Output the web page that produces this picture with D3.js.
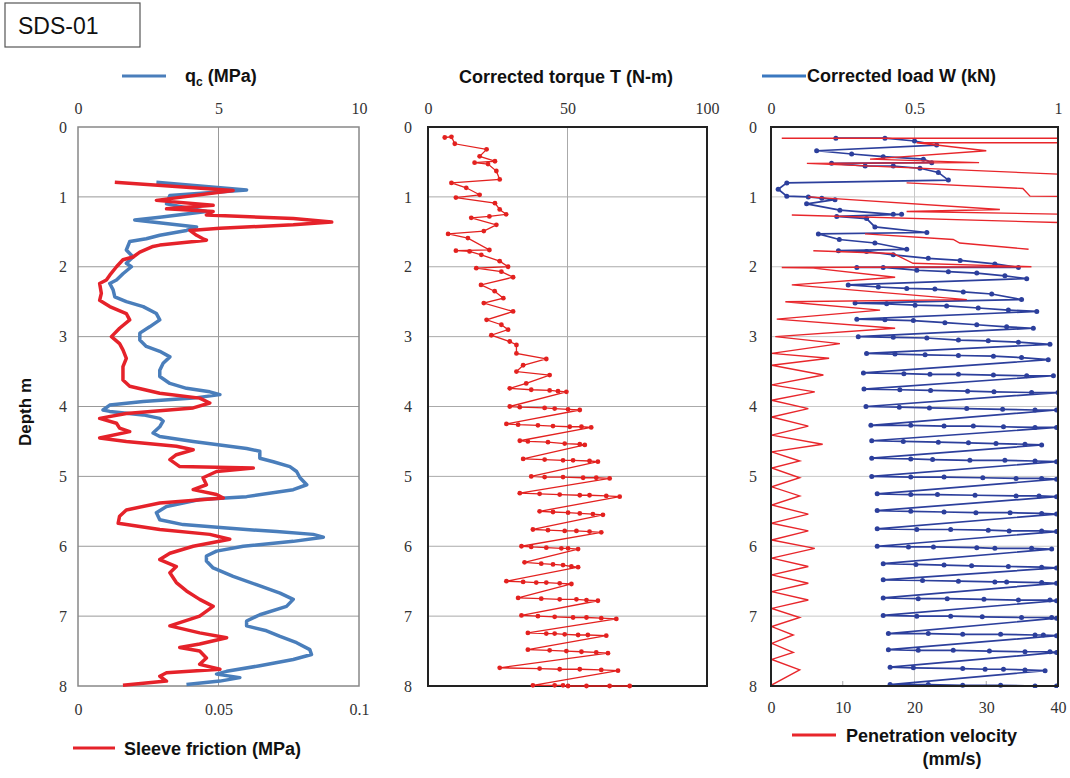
<!DOCTYPE html>
<html>
<head>
<meta charset="utf-8">
<script src="https://cdn.jsdelivr.net/npm/d3@7"></script>
<style>
body { margin: 0; background: #fff; }
svg { display: block; }
.lab { font-family: "Liberation Sans", Arial, sans-serif; font-weight: bold; font-size: 18px; fill: #111; }
</style>
</head>
<body>
<svg id="chart" width="1070" height="778"></svg>
<script>

// ---- data ----
var depthTicks = [0, 1, 2, 3, 4, 5, 6, 7, 8]
var qcTicks = [0, 5, 10]
var fsTicks = [0, 0.05, 0.1]
var torqueTicks = [0, 50, 100]
var loadTicks = [0, 0.5, 1]
var velTicks = [0, 10, 20, 30, 40]

// cone resistance qc (MPa) : [depth m, qc]
var qcData = [[0.79,2.79],[0.9,6.0],[0.98,3.27],[1.1,3.15],[1.21,4.57],[1.29,2.91],[1.33,2.02],[1.43,4.22],
  [1.48,3.86],[1.55,2.91],[1.6,2.43],[1.64,1.84],[1.76,1.72],[1.86,1.96],[1.95,1.72],[2.0,1.9],[2.1,1.6],
  [2.19,1.37],[2.24,1.13],[2.33,1.25],[2.43,1.31],[2.5,1.72],[2.57,2.32],[2.67,2.79],[2.76,2.91],[2.86,2.55],
  [2.95,2.2],[3.05,2.2],[3.14,2.43],[3.21,2.91],[3.29,3.27],[3.38,3.03],[3.48,2.91],[3.57,2.91],[3.67,3.27],
  [3.74,3.86],[3.79,4.69],[3.83,5.05],[3.88,4.1],[3.93,2.32],[3.98,1.13],[4.05,0.89],[4.07,1.13],[4.12,2.32],
  [4.17,2.91],[4.21,3.03],[4.29,2.91],[4.38,2.67],[4.43,2.91],[4.5,4.1],[4.55,5.05],[4.6,6.0],[4.64,6.47],
  [4.74,6.47],[4.79,6.95],[4.86,7.54],[4.93,7.78],[5.02,7.9],[5.12,8.14],[5.19,7.66],[5.29,6.0],[5.33,4.33],
  [5.43,3.15],[5.52,2.79],[5.62,2.91],[5.69,3.74],[5.74,5.29],[5.79,7.07],[5.83,8.37],[5.87,8.73],[5.93,7.66],
  [6.0,5.88],[6.07,4.93],[6.14,4.57],[6.21,4.57],[6.31,4.81],[6.43,5.52],[6.55,6.35],[6.67,7.19],[6.76,7.66],
  [6.86,7.42],[6.98,6.47],[7.07,6.0],[7.14,6.0],[7.21,6.71],[7.29,7.19],[7.38,7.78],[7.48,8.25],[7.55,8.31],
  [7.62,7.66],[7.71,6.47],[7.79,5.29],[7.83,4.93],[7.88,5.76],[7.93,5.05],[7.98,3.86]]

// sleeve friction fs (MPa) : [depth m, fs]
var fsData = [[0.79,0.0131],[0.91,0.0552],[1.05,0.0279],[1.12,0.0481],[1.17,0.0315],[1.21,0.0481],[1.26,0.0457],
  [1.31,0.0766],[1.36,0.0903],[1.4,0.0766],[1.45,0.0505],[1.48,0.0398],[1.55,0.0422],[1.6,0.0445],[1.62,0.0457],
  [1.69,0.0291],[1.71,0.0267],[1.79,0.022],[1.86,0.0196],[1.9,0.016],[2.0,0.0137],[2.12,0.0113],[2.19,0.0101],
  [2.24,0.0077],[2.38,0.0083],[2.48,0.0077],[2.57,0.0113],[2.67,0.0172],[2.76,0.0184],[2.88,0.0148],[3.0,0.0119],
  [3.1,0.0148],[3.19,0.016],[3.31,0.0172],[3.43,0.016],[3.62,0.016],[3.71,0.0184],[3.81,0.0291],[3.88,0.0433],
  [3.95,0.0469],[4.02,0.041],[4.1,0.0172],[4.17,0.0077],[4.24,0.0137],[4.31,0.0148],[4.36,0.0184],[4.45,0.0077],
  [4.5,0.0172],[4.57,0.035],[4.62,0.041],[4.69,0.035],[4.76,0.0327],[4.86,0.0362],[4.88,0.0624],[4.93,0.0493],
  [5.02,0.0445],[5.12,0.0457],[5.19,0.041],[5.26,0.0493],[5.31,0.0517],[5.38,0.0291],[5.48,0.0172],[5.57,0.0148],
  [5.67,0.0143],[5.76,0.0291],[5.83,0.0469],[5.9,0.054],[6.0,0.041],[6.1,0.0327],[6.19,0.0291],[6.29,0.035],
  [6.38,0.0327],[6.52,0.035],[6.64,0.0386],[6.76,0.0433],[6.86,0.0481],[7.0,0.0433],[7.14,0.0327],[7.24,0.0433],
  [7.31,0.0529],[7.4,0.0433],[7.45,0.0362],[7.5,0.0433],[7.6,0.0457],[7.69,0.0433],[7.76,0.0505],[7.81,0.0315],
  [7.86,0.0291],[7.93,0.0315],[7.99,0.016]]

// corrected torque T (N-m) : [depth m, T]
var torqueData = [[0.15,6],[0.14,8.4],[0.24,9.6],[0.32,21],[0.42,18.5],[0.49,24],[0.51,16.7],[0.53,21.5],[0.63,24.5],
  [0.75,25.7],[0.8,8.4],[0.87,13.7],[0.97,18.5],[1.01,10],[1.09,24],[1.18,25.7],[1.25,28],[1.28,22],[1.3,15.5],
  [1.4,24.5],[1.49,20],[1.53,7.2],[1.59,14.3],[1.76,22],[1.77,10],[1.78,14.9],[1.83,19.1],[1.92,25.7],[2.0,28.7],
  [2.02,17.3],[2.07,26.3],[2.15,30.5],[2.26,19],[2.35,23.9],[2.45,27],[2.52,20],[2.64,30.5],[2.76,21],[2.83,26.3],
  [2.9,28.7],[2.98,22.7],[3.07,29.3],[3.12,31.7],[3.24,31.7],[3.32,42.4],[3.41,34.1],[3.5,31.7],[3.55,43.6],
  [3.67,35.2],[3.74,29.3],[3.76,37],[3.77,43.6],[3.78,46.6],[3.79,49.6],
  [4.0,29.3],[4.01,32.9],[4.02,41.8],[4.03,45.4],[4.04,50.2],[4.05,54.4],
  [4.25,28.1],[4.26,32.3],[4.27,39.4],[4.28,44.8],[4.29,50.8],[4.29,55.0],[4.3,58.5],
  [4.49,32.9],[4.5,35.8],[4.51,43.0],[4.53,49.0],[4.54,54.4],[4.55,56.2],
  [4.75,34.1],[4.76,41.8],[4.77,48.4],[4.77,52.0],[4.78,57.9],[4.79,60.9],
  [5.0,37.0],[5.01,41.8],[5.01,48.4],[5.02,55.6],[5.02,60.3],[5.03,65.1],
  [5.24,32.9],[5.25,40.0],[5.26,47.2],[5.27,54.4],[5.27,57.9],[5.28,63.9],[5.29,68.7],
  [5.5,40.0],[5.51,44.8],[5.52,50.2],[5.53,54.4],[5.54,59.1],[5.55,62.7],
  [5.76,37.6],[5.77,43.0],[5.78,49.0],[5.78,53.2],[5.79,57.9],[5.8,62.1],
  [6.0,33.5],[6.01,37.0],[6.02,42.4],[6.03,47.8],[6.03,50.2],[6.04,53.8],
  [6.23,34.6],[6.25,40.6],[6.26,44.8],[6.27,48.4],[6.29,51.4],[6.3,53.8],
  [6.5,28.1],[6.51,34.1],[6.52,38.8],[6.52,42.4],[6.53,47.2],[6.54,51.4],
  [6.74,32.3],[6.75,40.6],[6.76,47.2],[6.76,53.2],[6.77,56.8],[6.78,60.9],
  [6.99,33.5],[7.0,39.4],[7.01,45.4],[7.02,52.0],[7.02,56.8],[7.03,62.1],[7.04,67.5],
  [7.24,35.8],[7.25,42.4],[7.25,45.4],[7.26,49.0],[7.27,53.8],[7.27,57.3],[7.28,63.9],
  [7.48,35.8],[7.49,43.6],[7.5,49.6],[7.51,55.0],[7.52,60.3],[7.53,64.5],
  [7.74,25.7],[7.75,40.0],[7.76,47.2],[7.76,54.4],[7.77,62.1],[7.78,68.1],
  [7.99,37.6],[7.99,45.4],[7.99,48.4],[8.0,50.2],[8.0,56.8],[8.0,65.1],[8.0,72.3]]

// corrected load W (kN) : [depth m, W]
var loadData = [[0.16,0.226],[0.16,0.397],[0.2,0.5],[0.258,0.577],[0.34,0.159],[0.386,0.281],[0.425,0.391],
  [0.46,0.531],[0.51,0.56],[0.52,0.211],[0.558,0.328],[0.558,0.426],[0.59,0.519],[0.65,0.583],[0.76,0.618],
  [0.8,0.055],[0.89,0.025],[0.99,0.055],[1.0,0.13],[1.02,0.177],[1.04,0.223],[1.1,0.124],[1.19,0.24],[1.25,0.426],
  [1.25,0.455],[1.28,0.229],[1.31,0.333],[1.43,0.362],[1.51,0.543],[1.53,0.165],[1.61,0.238],[1.66,0.362],
  [1.75,0.473],[1.77,0.235],[1.78,0.333],[1.83,0.426],[1.88,0.548],[1.91,0.659],[1.96,0.78],[2.01,0.862],
  [2.01,0.299],[2.01,0.391],[2.05,0.508],[2.07,0.618],[2.09,0.717],[2.13,0.815],[2.17,0.891],
  [2.26,0.269],[2.29,0.374],[2.31,0.473],[2.32,0.571],[2.36,0.67],[2.39,0.769],[2.47,0.873],
  [2.52,0.293],[2.53,0.403],[2.55,0.502],[2.56,0.612],[2.59,0.722],[2.62,0.827],[2.64,0.926],
  [2.75,0.299],[2.76,0.397],[2.77,0.496],[2.8,0.606],[2.83,0.717],[2.86,0.821],[2.88,0.914],
  [3.0,0.304],[3.01,0.426],[3.02,0.543],[3.05,0.653],[3.06,0.757],[3.08,0.862],[3.11,0.972],
  [3.24,0.333],[3.25,0.432],[3.26,0.537],[3.27,0.653],[3.28,0.775],[3.3,0.873],[3.33,0.966],
  [3.52,0.322],[3.53,0.463],[3.54,0.554],[3.54,0.653],[3.55,0.775],[3.56,0.891],[3.56,0.984],
  [3.75,0.324],[3.76,0.449],[3.77,0.556],[3.78,0.685],[3.79,0.777],[3.8,0.908],[3.8,1.0],
  [4.0,0.331],[4.01,0.447],[4.02,0.552],[4.03,0.682],[4.04,0.807],[4.05,0.92],[4.05,0.995],
  [4.27,0.348],[4.27,0.487],[4.28,0.603],[4.28,0.705],[4.29,0.81],[4.3,0.92],[4.3,0.995],
  [4.49,0.351],[4.5,0.461],[4.51,0.583],[4.52,0.688],[4.53,0.784],[4.54,0.885],[4.55,0.943],
  [4.74,0.351],[4.75,0.487],[4.76,0.563],[4.77,0.693],[4.77,0.815],[4.78,0.92],[4.79,0.995],
  [5.0,0.351],[5.01,0.487],[5.01,0.603],[5.02,0.738],[5.03,0.854],[5.03,0.943],[5.04,0.995],
  [5.25,0.37],[5.26,0.487],[5.26,0.58],[5.27,0.711],[5.28,0.854],[5.28,0.934],[5.29,0.995],
  [5.49,0.37],[5.5,0.487],[5.51,0.603],[5.52,0.714],[5.52,0.833],[5.53,0.943],[5.54,0.995],
  [5.75,0.37],[5.76,0.508],[5.76,0.626],[5.77,0.757],[5.78,0.83],[5.78,0.943],[5.79,0.995],
  [6.0,0.37],[6.01,0.479],[6.01,0.566],[6.02,0.717],[6.03,0.78],[6.03,0.908],[6.04,0.978],
  [6.25,0.391],[6.26,0.505],[6.27,0.603],[6.28,0.699],[6.29,0.827],[6.3,0.943],[6.31,0.995],
  [6.48,0.391],[6.49,0.528],[6.5,0.653],[6.51,0.78],[6.51,0.821],[6.52,0.943],[6.53,0.995],
  [6.74,0.391],[6.75,0.513],[6.75,0.614],[6.76,0.742],[6.77,0.862],[6.77,0.972],[6.78,0.995],
  [6.99,0.391],[7.0,0.508],[7.0,0.626],[7.01,0.736],[7.02,0.873],[7.02,0.978],[7.03,0.995],
  [7.25,0.409],[7.25,0.548],[7.26,0.668],[7.26,0.8],[7.27,0.92],[7.27,0.949],[7.28,0.995],
  [7.48,0.409],[7.49,0.513],[7.49,0.635],[7.5,0.761],[7.51,0.885],[7.51,0.972],[7.52,0.995],
  [7.73,0.415],[7.74,0.496],[7.75,0.668],[7.76,0.746],[7.76,0.81],[7.77,0.885],[7.78,0.955],
  [7.98,0.415],[7.98,0.548],[7.99,0.668],[7.99,0.8],[8.0,0.92],[8.0,0.995]]

// penetration velocity (mm/s) : [depth m, v], null = pen up
var velData = [[0.16,1.5],[0.16,48],null,
  [0.225,48],[0.225,20.3],[0.34,30],[0.46,13.8],[0.51,29],[0.52,5],[0.71,48],null,
  [0.8,18.9],[0.88,35.1],[0.99,36.1],[1.0,48],null,
  [1.0,5.2],[1.18,31.9],[1.21,18.9],[1.26,48],null,
  [1.26,2.9],[1.39,48],null,
  [1.53,13.1],[1.61,25.4],[1.66,26.3],[1.75,35.9],null,
  [1.77,5.9],[1.81,17],[1.95,19.8],[2.0,36.3],[2.01,1.5],[2.02,5.9],[2.15,17.3],[2.26,2.9],[2.47,27.3],
  [2.5,2.0],[2.62,15.2],[2.75,0.8],[2.88,17.3],[3.0,0.6],[3.1,9.6],[3.24,0.1],[3.31,8.1],[3.41,0.1],
  [3.55,7.3],[3.69,0.1],[3.79,6.1],[3.91,0.1],[4.03,5.2],[4.15,0.1],[4.28,5.2],[4.41,0.1],[4.54,7.2],
  [4.65,0.1],[4.78,4.0],[4.88,0.1],[5.02,4.0],[5.15,0.1],[5.28,4.0],[5.41,0.1],[5.54,5.2],[5.67,0.1],
  [5.78,5.2],[5.91,0.1],[6.03,6.1],[6.17,0.1],[6.29,5.2],[6.41,0.1],[6.53,5.2],[6.65,0.1],[6.77,5.2],
  [6.89,0.1],[7.02,4.0],[7.15,0.1],[7.27,3.1],[7.39,0.1],[7.52,3.1],[7.62,0.1],[7.77,4.0],[7.99,0]]

// ---- layout ----
var svg = d3.select("#chart")
var top0 = 127, bot0 = 686
var y = d3.scaleLinear().domain([0, 8]).range([top0, bot0])

var xQc = d3.scaleLinear().domain([0, 10]).range([78, 359])
var xFs = d3.scaleLinear().domain([0, 0.1]).range([78, 359])
var xT = d3.scaleLinear().domain([0, 100]).range([428, 707])
var xW = d3.scaleLinear().domain([0, 1]).range([771, 1058])
var xV = d3.scaleLinear().domain([0, 40]).range([771, 1058])

function tickFont(g) {
	g.select(".domain").remove()
	g.selectAll("text")
		.style("font-family", "'Liberation Serif', 'Times New Roman', serif")
		.style("font-size", "16px")
		.style("fill", "#333")
}

function grid(xs, vLines, col) {
	var g = svg.append("g")
	g.selectAll("line.h").data(depthTicks.slice(1, -1)).enter().append("line")
		.attr("x1", xs.range()[0]).attr("x2", xs.range()[1])
		.attr("y1", function(d) { return y(d) }).attr("y2", function(d) { return y(d) })
		.attr("stroke", col).attr("stroke-width", 1)
	g.selectAll("line.v").data(vLines).enter().append("line")
		.attr("x1", function(d) { return xs(d) }).attr("x2", function(d) { return xs(d) })
		.attr("y1", top0).attr("y2", bot0)
		.attr("stroke", col).attr("stroke-width", 1)
}

function frame(xs, col, w) {
	svg.append("rect")
		.attr("x", xs.range()[0]).attr("y", top0)
		.attr("width", xs.range()[1] - xs.range()[0]).attr("height", bot0 - top0)
		.attr("fill", "none").attr("stroke", col).attr("stroke-width", w)
}

function depthAxis(xs, pad) {
	svg.append("g")
		.attr("transform", "translate(" + xs.range()[0] + ",0)")
		.call(d3.axisLeft(y).tickValues(depthTicks).tickSize(0).tickPadding(pad).tickFormat(d3.format("d")))
		.call(tickFont)
}

function topAxis(xs, ticks, fmt) {
	svg.append("g")
		.attr("transform", "translate(0," + top0 + ")")
		.call(d3.axisTop(xs).tickValues(ticks).tickSize(0).tickPadding(13).tickFormat(fmt))
		.call(tickFont)
}

function bottomAxis(xs, ticks, fmt, pad) {
	svg.append("g")
		.attr("transform", "translate(0," + bot0 + ")")
		.call(d3.axisBottom(xs).tickValues(ticks).tickSize(0).tickPadding(pad).tickFormat(fmt))
		.call(tickFont)
}

function legendLine(x1, x2, yy, col) {
	svg.append("line").attr("x1", x1).attr("x2", x2).attr("y1", yy).attr("y2", yy)
		.attr("stroke", col).attr("stroke-width", 3)
}

// title box
svg.append("rect").attr("x", 5).attr("y", 3).attr("width", 135).attr("height", 44)
	.attr("fill", "#fff").attr("stroke", "#555").attr("stroke-width", 1.2)
svg.append("text").attr("x", 18).attr("y", 34)
	.style("font-family", "Liberation Sans, Arial, sans-serif").style("font-size", "23px").attr("fill", "#111")
	.text("SDS-01")

// ---- panel 1 : qc and sleeve friction ----
grid(xQc, [5], "#999")
frame(xQc, "#888", 1.5)
depthAxis(xQc, 11)
topAxis(xQc, qcTicks, d3.format("d"))
bottomAxis(xFs, fsTicks, function(d) { return d === 0 ? "0" : String(d) }, 18)

svg.append("path").datum(qcData)
	.attr("d", d3.line().x(function(d) { return xQc(d[1]) }).y(function(d) { return y(d[0]) }))
	.attr("fill", "none").attr("stroke", "#4a7ebb").attr("stroke-width", 3.5).attr("stroke-linejoin", "round")
svg.append("path").datum(fsData)
	.attr("d", d3.line().x(function(d) { return xFs(d[1]) }).y(function(d) { return y(d[0]) }))
	.attr("fill", "none").attr("stroke", "#e5222a").attr("stroke-width", 3.5).attr("stroke-linejoin", "round")

legendLine(122, 166, 76, "#4a7ebb")
var qcLab = svg.append("text").attr("class", "lab").attr("x", 185).attr("y", 82)
qcLab.append("tspan").text("q")
qcLab.append("tspan").attr("dy", 4).style("font-size", "12px").text("c")
qcLab.append("tspan").attr("dy", -4).text(" (MPa)")
legendLine(73, 115, 748, "#e5222a")
svg.append("text").attr("class", "lab").attr("x", 124).attr("y", 755).text("Sleeve friction (MPa)")

svg.append("text").attr("class", "lab").style("font-size", "17px")
	.attr("transform", "translate(31,412) rotate(-90)").attr("text-anchor", "middle").text("Depth m")

// ---- panel 2 : torque ----
grid(xT, [50], "#aaa")
frame(xT, "#222", 2)
depthAxis(xT, 16)
topAxis(xT, torqueTicks, d3.format("d"))
svg.append("text").attr("class", "lab").attr("x", 566).attr("y", 83).attr("text-anchor", "middle")
	.text("Corrected torque T (N-m)")

svg.append("path").datum(torqueData)
	.attr("d", d3.line().x(function(d) { return xT(d[1]) }).y(function(d) { return y(d[0]) }))
	.attr("fill", "none").attr("stroke", "#e3211f").attr("stroke-width", 1.3)
svg.append("g").selectAll("circle").data(torqueData).enter().append("circle")
	.attr("cx", function(d) { return xT(d[1]) }).attr("cy", function(d) { return y(d[0]) })
	.attr("r", 2.4).attr("fill", "#e3211f")

// ---- panel 3 : load and velocity ----
svg.append("clipPath").attr("id", "clipR").append("rect")
	.attr("x", 771).attr("y", top0 - 2).attr("width", 1058 - 771).attr("height", bot0 - top0 + 4)

grid(xW, [0.5], "#c8c8c8")
// small velocity ticks on bottom axis
svg.append("g").selectAll("line").data(velTicks.slice(1, -1)).enter().append("line")
	.attr("x1", function(d) { return xV(d) }).attr("x2", function(d) { return xV(d) })
	.attr("y1", bot0).attr("y2", bot0 - 5).attr("stroke", "#aaa")
depthAxis(xW, 14)
topAxis(xW, loadTicks, function(d) { return String(d) })
bottomAxis(xV, velTicks, d3.format("d"), 16)

var plotR = svg.append("g").attr("clip-path", "url(#clipR)")
plotR.append("path").datum(loadData)
	.attr("d", d3.line().x(function(d) { return xW(d[1]) }).y(function(d) { return y(d[0]) }))
	.attr("fill", "none").attr("stroke", "#2c3f9c").attr("stroke-width", 1.7)
plotR.append("g").selectAll("circle").data(loadData).enter().append("circle")
	.attr("cx", function(d) { return xW(d[1]) }).attr("cy", function(d) { return y(d[0]) })
	.attr("r", 2.5).attr("fill", "#2c3f9c")
plotR.append("path").datum(velData)
	.attr("d", d3.line().defined(function(d) { return d !== null })
		.x(function(d) { return xV(d[1]) }).y(function(d) { return y(d[0]) }))
	.attr("fill", "none").attr("stroke", "#e8262b").attr("stroke-width", 1.4)

frame(xW, "#222", 2)

legendLine(762, 806, 76, "#3a78c0")
svg.append("text").attr("class", "lab").attr("x", 807).attr("y", 82).text("Corrected load W (kN)")
legendLine(792, 836, 735, "#e8262b")
svg.append("text").attr("class", "lab").attr("x", 846).attr("y", 742).text("Penetration velocity")
svg.append("text").attr("class", "lab").attr("x", 952).attr("y", 765).attr("text-anchor", "middle").text("(mm/s)")

</script>
</body>
</html>
